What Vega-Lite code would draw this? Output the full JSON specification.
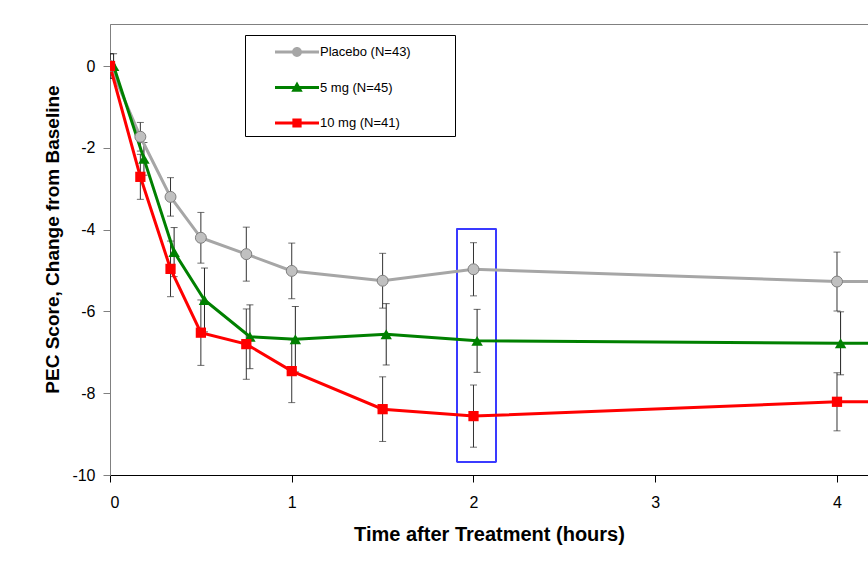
{
  "$schema": "https://vega.github.io/schema/vega-lite/v6.json",
  "width": 758,
  "height": 451,
  "autosize": {"type": "none"},
  "padding": {"left": 110, "top": 24, "right": 0, "bottom": 94},
  "background": "white",
  "config": {
    "font": "Liberation Sans",
    "view": {"stroke": "#808080", "strokeWidth": 1}
  },
  "data": {
    "values": [
      {"series": "Placebo (N=43)", "t": 0, "mean": 0, "lo": -0.3, "hi": 0.3},
      {"series": "Placebo (N=43)", "t": 0.167, "mean": -1.73, "lo": -2.08, "hi": -1.38},
      {"series": "Placebo (N=43)", "t": 0.333, "mean": -3.2, "lo": -3.67, "hi": -2.73},
      {"series": "Placebo (N=43)", "t": 0.5, "mean": -4.2, "lo": -4.82, "hi": -3.58},
      {"series": "Placebo (N=43)", "t": 0.75, "mean": -4.6, "lo": -5.26, "hi": -3.94},
      {"series": "Placebo (N=43)", "t": 1, "mean": -5.01, "lo": -5.69, "hi": -4.33},
      {"series": "Placebo (N=43)", "t": 1.5, "mean": -5.25, "lo": -5.92, "hi": -4.58},
      {"series": "Placebo (N=43)", "t": 2, "mean": -4.97, "lo": -5.62, "hi": -4.32},
      {"series": "Placebo (N=43)", "t": 4, "mean": -5.27, "lo": -5.99, "hi": -4.55},
      {"series": "Placebo (N=43)", "t": 8, "mean": -5.3, "lo": -6.0, "hi": -4.6},
      {"series": "5 mg (N=45)", "t": 0, "mean": 0, "lo": -0.3, "hi": 0.3},
      {"series": "5 mg (N=45)", "t": 0.167, "mean": -2.27, "lo": -2.67, "hi": -1.87},
      {"series": "5 mg (N=45)", "t": 0.333, "mean": -4.55, "lo": -5.15, "hi": -3.95},
      {"series": "5 mg (N=45)", "t": 0.5, "mean": -5.72, "lo": -6.5, "hi": -4.94},
      {"series": "5 mg (N=45)", "t": 0.75, "mean": -6.62, "lo": -7.4, "hi": -5.84},
      {"series": "5 mg (N=45)", "t": 1, "mean": -6.68, "lo": -7.48, "hi": -5.88},
      {"series": "5 mg (N=45)", "t": 1.5, "mean": -6.56, "lo": -7.31, "hi": -5.81},
      {"series": "5 mg (N=45)", "t": 2, "mean": -6.72, "lo": -7.49, "hi": -5.95},
      {"series": "5 mg (N=45)", "t": 4, "mean": -6.78, "lo": -7.55, "hi": -6.01},
      {"series": "5 mg (N=45)", "t": 8, "mean": -6.8, "lo": -7.55, "hi": -6.05},
      {"series": "10 mg (N=41)", "t": 0, "mean": 0, "lo": -0.3, "hi": 0.3},
      {"series": "10 mg (N=41)", "t": 0.167, "mean": -2.71, "lo": -3.26, "hi": -2.16},
      {"series": "10 mg (N=41)", "t": 0.333, "mean": -4.96, "lo": -5.64, "hi": -4.28},
      {"series": "10 mg (N=41)", "t": 0.5, "mean": -6.52, "lo": -7.32, "hi": -5.72},
      {"series": "10 mg (N=41)", "t": 0.75, "mean": -6.8, "lo": -7.66, "hi": -5.94},
      {"series": "10 mg (N=41)", "t": 1, "mean": -7.46, "lo": -8.23, "hi": -6.69},
      {"series": "10 mg (N=41)", "t": 1.5, "mean": -8.39, "lo": -9.18, "hi": -7.6},
      {"series": "10 mg (N=41)", "t": 2, "mean": -8.56, "lo": -9.32, "hi": -7.8},
      {"series": "10 mg (N=41)", "t": 4, "mean": -8.21, "lo": -8.92, "hi": -7.5},
      {"series": "10 mg (N=41)", "t": 8, "mean": -8.15, "lo": -8.85, "hi": -7.45}
    ]
  },
  "encoding": {
    "x": {
      "field": "t", "type": "quantitative",
      "scale": {"domain": [0, 4.1706], "nice": false, "zero": false},
      "axis": {
        "values": [0, 1, 2, 3, 4],
        "labelExpr": "'' + datum.value",
        "title": "Time after Treatment (hours)",
        "titleFontSize": 20, "titleFontWeight": "bold", "titleColor": "#000",
        "titlePadding": 14,
        "labelFontSize": 16, "labelColor": "#000", "labelPadding": 12,
        "tickSize": 7, "tickColor": "#000", "domainColor": "#000",
        "grid": false
      }
    },
    "y": {
      "field": "mean", "type": "quantitative",
      "scale": {"domain": [-10, 1.027], "nice": false, "zero": false},
      "axis": {
        "values": [-10, -8, -6, -4, -2, 0],
        "labelExpr": "'' + datum.value",
        "title": "PEC Score, Change from Baseline",
        "titleFontSize": 19, "titleFontWeight": "bold", "titleColor": "#000",
        "titleX": -48, "titleY": 215,
        "labelFontSize": 16, "labelColor": "#000", "labelPadding": 8,
        "tickSize": 7, "tickColor": "#808080", "domainColor": "#808080",
        "grid": false
      }
    }
  },
  "layer": [
    {
      "mark": {"type": "rect", "fill": null, "fillOpacity": 0, "stroke": "#3b3bff", "strokeWidth": 1, "clip": true},
      "encoding": {
        "x": {"datum": 1.909, "type": "quantitative"},
        "x2": {"datum": 2.124},
        "y": {"datum": -3.985, "type": "quantitative"},
        "y2": {"datum": -9.68}
      }
    },
    {
      "transform": [{"filter": "datum.series !== '5 mg (N=45)'"}],
      "layer": [
        {"mark": {"type": "rule", "color": "#333", "strokeWidth": 1, "clip": true},
         "encoding": {"y": {"field": "lo", "type": "quantitative"}, "y2": {"field": "hi"}}},
        {"mark": {"type": "tick", "orient": "horizontal", "size": 7, "thickness": 1, "color": "#333", "clip": true},
         "encoding": {"y": {"field": "lo", "type": "quantitative"}}},
        {"mark": {"type": "tick", "orient": "horizontal", "size": 7, "thickness": 1, "color": "#333", "clip": true},
         "encoding": {"y": {"field": "hi", "type": "quantitative"}}}
      ]
    },
    {
      "transform": [{"filter": "datum.series === '5 mg (N=45)'"}],
      "layer": [
        {"mark": {"type": "rule", "color": "#222", "strokeWidth": 1, "xOffset": 3.6, "clip": true},
         "encoding": {"y": {"field": "lo", "type": "quantitative"}, "y2": {"field": "hi"}}},
        {"mark": {"type": "tick", "orient": "horizontal", "size": 7, "thickness": 1, "color": "#222", "xOffset": 3.6, "clip": true},
         "encoding": {"y": {"field": "lo", "type": "quantitative"}}},
        {"mark": {"type": "tick", "orient": "horizontal", "size": 7, "thickness": 1, "color": "#222", "xOffset": 3.6, "clip": true},
         "encoding": {"y": {"field": "hi", "type": "quantitative"}}}
      ]
    },
    {
      "transform": [{"filter": "datum.series !== '5 mg (N=45)'"}],
      "mark": {"type": "line", "strokeWidth": 3, "clip": true},
      "encoding": {
        "color": {
          "field": "series", "type": "nominal",
          "scale": {"domain": ["Placebo (N=43)", "5 mg (N=45)", "10 mg (N=41)"], "range": ["#a6a6a6", "#008000", "#ff0000"]},
          "legend": {
            "title": "\u00a0",
            "titleOrient": "right",
            "titlePadding": 38,
            "titleFontSize": 13,
            "orient": "none",
            "legendX": 135,
            "legendY": 11,
            "padding": 6,
            "strokeColor": "#000",
            "fillColor": "#fff",
            "symbolSize": 484,
            "symbolStrokeWidth": 0,
            "symbolOffset": 35,
            "labelOffset": 12,
            "rowPadding": 17.5,
            "labelFontSize": 13,
            "labelColor": "#000",
            "labelLimit": 400,
            "encode": {
              "symbols": {
                "update": {
                  "shape": {"signal": "datum.value === 'Placebo (N=43)' ? 'M-2,-0.14H2V0.14H-2Z M0.45,0A0.45,0.45 0 1 1 -0.45,0A0.45,0.45 0 1 1 0.45,0Z' : datum.value === '5 mg (N=45)' ? 'M-2,-0.14H2V0.14H-2Z M0,-0.55L0.52,0.38L-0.52,0.38Z' : 'M-2,-0.14H2V0.14H-2Z M-0.42,-0.42H0.42V0.42H-0.42Z'"},
                  "fill": {"signal": "scale('color', datum.value)"},
                  "fillOpacity": {"value": 1},
                  "opacity": {"value": 1},
                  "strokeWidth": {"value": 0},
                  "size": {"value": 484}
                }
              }
            }
          }
        },
        "detail": {"field": "series"}
      }
    },
    {
      "transform": [{"filter": "datum.series === '5 mg (N=45)'"}],
      "mark": {"type": "line", "strokeWidth": 3, "xOffset": 3.6, "clip": true},
      "encoding": {
        "color": {"field": "series", "type": "nominal"}
      }
    },
    {
      "transform": [{"filter": "datum.series === 'Placebo (N=43)'"}],
      "mark": {"type": "point", "shape": "circle", "filled": true, "fill": "#c0c0c0", "stroke": "#7f7f7f", "strokeWidth": 1, "size": 120, "opacity": 1, "clip": true}
    },
    {
      "transform": [{"filter": "datum.series === '5 mg (N=45)'"}],
      "mark": {"type": "point", "shape": "triangle-up", "filled": true, "fill": "#008000", "size": 130, "opacity": 1, "xOffset": 3.6, "clip": true}
    },
    {
      "transform": [{"filter": "datum.series === '10 mg (N=41)'"}],
      "mark": {"type": "point", "shape": "square", "filled": true, "fill": "#ff0000", "size": 105, "opacity": 1, "clip": true}
    }
  ]
}
